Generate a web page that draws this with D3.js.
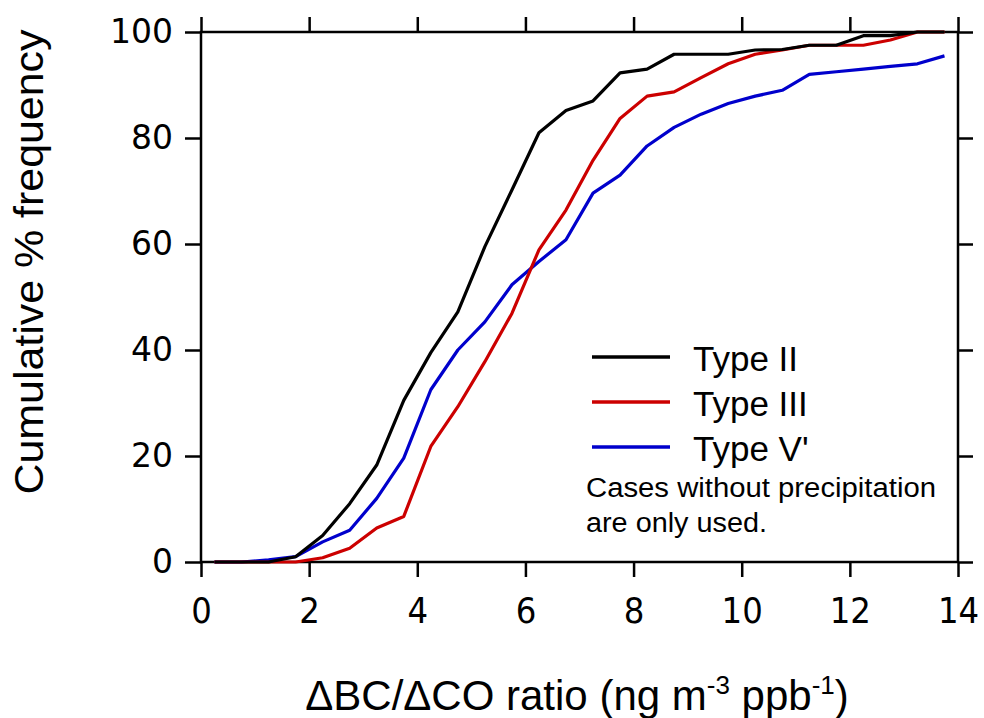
<!DOCTYPE html>
<html>
<head>
<meta charset="utf-8">
<script src="https://cdn.jsdelivr.net/npm/d3@7"></script>
<style>
  body { margin: 0; background: #fff; }
  .axis path { display: none; }
  .axis line { stroke: #000; stroke-width: 2.5; }
</style>
</head>
<body>
<div id="chart"></div>
<script>
// bin mid points of the ratio (ng m-3 ppb-1)
const ratio = [0.25, 0.75, 1.25, 1.75, 2.25, 2.75, 3.25, 3.75, 4.25, 4.75, 5.25, 5.75, 6.25, 6.75,
               7.25, 7.75, 8.25, 8.75, 9.25, 9.75, 10.25, 10.75, 11.25, 11.75, 12.25, 12.75, 13.25, 13.75];

const typeII  = [0, 0, 0, 1, 5, 11, 18.3, 30.5, 39.5, 47.2, 59.5, 70.2, 81, 85.2,
                 87, 92.3, 93, 95.8, 95.8, 95.8, 96.6, 96.7, 97.5, 97.5, 99.3, 99.3, 100, 100];
const typeIII = [0, 0, 0, 0, 0.8, 2.6, 6.4, 8.6, 21.8, 29.3, 37.8, 46.9, 58.9, 66.4,
                 75.8, 83.7, 87.9, 88.7, 91.4, 94, 95.8, 96.6, 97.5, 97.5, 97.5, 98.5, 100, 100];
const typeV   = [0, 0, 0.4, 1, 3.8, 6, 12, 19.6, 32.5, 40, 45.3, 52.3, 56.7, 60.8,
                 69.6, 73, 78.5, 82, 84.5, 86.5, 87.9, 89, 92, 92.5, 93, 93.5, 94, 95.5];

const seriesNames = ["Type II", "Type III", "Type V'"];
const seriesColors = ["#000000", "#cc0000", "#0000cc"];
const seriesValues = [typeII, typeIII, typeV];

const xTicks = [0, 2, 4, 6, 8, 10, 12, 14];
const yTicks = [0, 20, 40, 60, 80, 100];

const width = 984, height = 718;
const margin = {top: 32, right: 26, bottom: 156, left: 201};
const innerW = width - margin.left - margin.right,
      innerH = height - margin.top - margin.bottom;

const svg = d3.select("#chart").append("svg")
    .attr("width", width)
    .attr("height", height);

const g = svg.append("g")
    .attr("transform", "translate(" + margin.left + "," + margin.top + ")");

const x = d3.scaleLinear().domain([0, 14]).range([0, innerW]);
const y = d3.scaleLinear().domain([0, 100]).range([innerH, 0]);

// axes, ticks outward on all four sides
g.append("g").attr("class", "axis")
    .attr("transform", "translate(0," + innerH + ")")
    .call(d3.axisBottom(x).tickValues(xTicks).tickSize(15).tickPadding(20))
    .selectAll("text")
    .style("font-family", "'DejaVu Sans Condensed', 'DejaVu Sans', sans-serif")
    .style("font-size", "36px")
    .attr("fill", "#000");

g.append("g").attr("class", "axis")
    .call(d3.axisTop(x).tickValues(xTicks).tickSize(15).tickFormat(""));

g.append("g").attr("class", "axis")
    .call(d3.axisLeft(y).tickValues(yTicks).tickSize(16).tickPadding(12))
    .selectAll("text")
    .style("font-family", "'DejaVu Sans', sans-serif")
    .style("font-size", "33px")
    .attr("fill", "#000");

g.append("g").attr("class", "axis")
    .attr("transform", "translate(" + innerW + ",0)")
    .call(d3.axisRight(y).tickValues(yTicks).tickSize(15).tickFormat(""));

g.append("rect")
    .attr("width", innerW)
    .attr("height", innerH)
    .attr("fill", "none")
    .attr("stroke", "#000")
    .attr("stroke-width", 2.5);

// curves
const line = d3.line()
    .x((d, i) => x(ratio[i]))
    .y(d => y(d));

// draw blue first, then red, then black on top
[2, 1, 0].forEach(k => {
  g.append("path")
      .datum(seriesValues[k])
      .attr("fill", "none")
      .attr("stroke", seriesColors[k])
      .attr("stroke-width", 3.2)
      .attr("stroke-linejoin", "round")
      .attr("d", line);
});

// legend
const legend = svg.append("g")
    .attr("transform", "translate(592,357)");

seriesNames.forEach((name, i) => {
  const row = legend.append("g").attr("transform", "translate(0," + (i * 45) + ")");
  row.append("line")
      .attr("x1", 0).attr("x2", 78)
      .attr("stroke", seriesColors[i])
      .attr("stroke-width", 3.5);
  row.append("text")
      .attr("x", 101)
      .attr("y", 14)
      .style("font-family", "'Liberation Sans', Arial, sans-serif")
      .style("font-size", "35px")
      .text(name);
});

const note = svg.append("g")
    .style("font-family", "'Liberation Sans', Arial, sans-serif")
    .style("font-size", "27px");
note.append("text").attr("x", 586).attr("y", 497)
    .attr("textLength", 350).attr("lengthAdjust", "spacingAndGlyphs")
    .text("Cases without precipitation");
note.append("text").attr("x", 586).attr("y", 532)
    .attr("textLength", 181).attr("lengthAdjust", "spacingAndGlyphs")
    .text("are only used.");

// axis titles
const xTitle = svg.append("text")
    .attr("x", 577)
    .attr("y", 710)
    .attr("text-anchor", "middle")
    .style("font-family", "'Liberation Sans', Arial, sans-serif")
    .style("font-size", "42px");
xTitle.append("tspan").text("\u0394BC/\u0394CO ratio (ng m");
xTitle.append("tspan").attr("dy", -16).style("font-size", "26px").text("-3");
xTitle.append("tspan").attr("dy", 16).text(" ppb");
xTitle.append("tspan").attr("dy", -16).style("font-size", "26px").text("-1");
xTitle.append("tspan").attr("dy", 16).text(")");

svg.append("text")
    .attr("transform", "translate(43,262) rotate(-90)")
    .attr("text-anchor", "middle")
    .attr("textLength", 465)
    .attr("lengthAdjust", "spacingAndGlyphs")
    .style("font-family", "'Liberation Sans', Arial, sans-serif")
    .style("font-size", "41px")
    .text("Cumulative % frequency");
</script>
</body>
</html>
